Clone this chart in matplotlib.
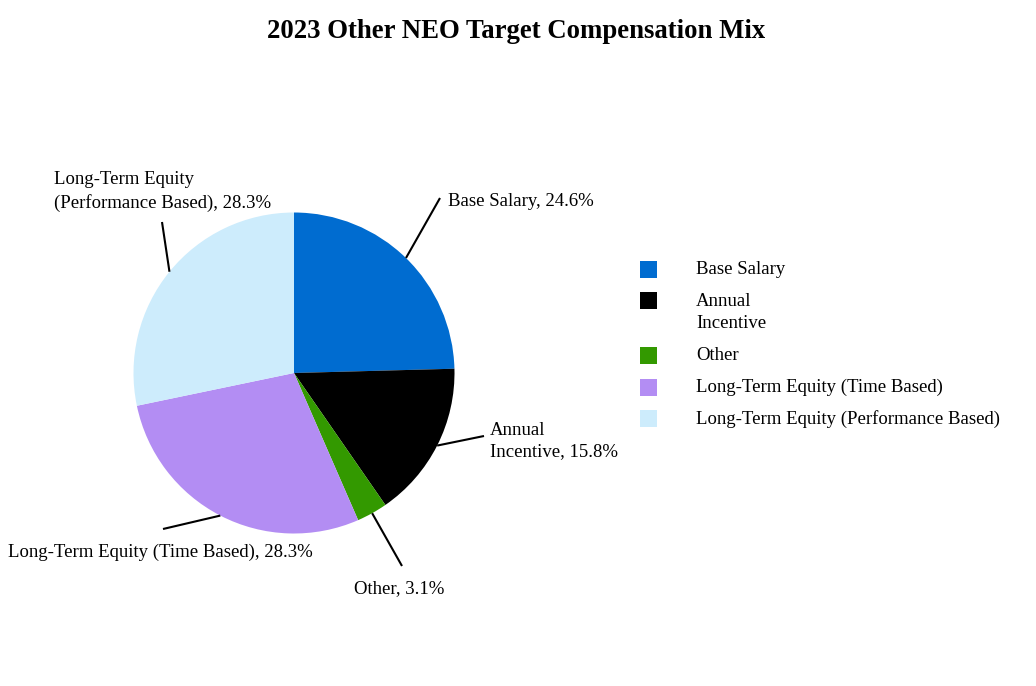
import matplotlib
matplotlib.use("Agg")
import matplotlib.pyplot as plt
from matplotlib.patches import Rectangle
import numpy as np

plt.rcParams['font.family'] = ['Liberation Serif', 'DejaVu Serif']

categories = ["Base Salary", "Annual\nIncentive", "Other",
              "Long-Term Equity (Time Based)", "Long-Term Equity (Performance Based)"]
label_texts = ["Base Salary, 24.6%", "Annual\nIncentive, 15.8%", "Other, 3.1%",
               "Long-Term Equity (Time Based), 28.3%", "Long-Term Equity\n(Performance Based), 28.3%"]
values = [24.6, 15.8, 3.1, 28.3, 28.3]
colors = ["#006CD0", "#000000", "#339900", "#B38DF3", "#CDECFC"]

W, H = 1036, 686
fig = plt.figure(figsize=(W / 100, H / 100), dpi=100)
ax = fig.add_axes([0, 0, 1, 1])

cx, cy, R = 294, H - 373, 160.5
wedges, _ = ax.pie(values, colors=colors, startangle=90, counterclock=False,
                   center=(cx, cy), radius=R, wedgeprops=dict(linewidth=0))
ax.set_xlim(0, W)
ax.set_ylim(0, H)
ax.set_aspect('equal')
ax.axis('off')

fs = 13.5
ls = 1.38
# label line end points and text anchors (pixel layout, y from top)
line_ends = [(440, 198), (484, 436), (402, 566), (163, 529), (162, 222)]
text_pos = [(448, 201), (490, 441), (354, 589), (8, 552), (54, 191.5)]
for w, (ex, ey), (tx, ty), txt in zip(wedges, line_ends, text_pos, label_texts):
    ang = np.deg2rad((w.theta1 + w.theta2) / 2)
    sx, sy = cx + R * np.cos(ang), cy + R * np.sin(ang)
    ax.plot([sx, ex], [sy, H - ey], color='black', lw=1.5, solid_capstyle='butt')
    ax.text(tx, H - ty, txt, ha='left', va='center', fontsize=fs, linespacing=ls)

ax.text(516, H - 31, "2023 Other NEO Target Compensation Mix", ha='center', va='center',
        fontsize=19.3, fontweight='bold')

# manual legend
leg_x, leg_y, sq = 640, 269, 17
row_pitch, line_pitch, text_x = 31.7, 23, 696
y = leg_y
for w, lab in zip(wedges, categories):
    nl = lab.count("\n") + 1
    ax.add_patch(Rectangle((leg_x, H - y - sq / 2), sq, sq, facecolor=w.get_facecolor(),
                           edgecolor='none'))
    ax.text(text_x, H - (y + line_pitch * (nl - 1) / 2), lab, ha='left', va='center',
            fontsize=fs, linespacing=ls)
    y += row_pitch + line_pitch * (nl - 1)

fig.savefig("out.png", dpi=100)
